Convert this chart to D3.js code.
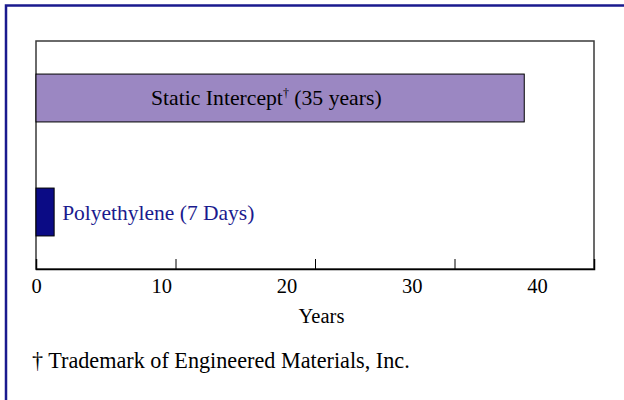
<!DOCTYPE html>
<html>
<head>
<meta charset="utf-8">
<script src="https://cdn.jsdelivr.net/npm/d3@7"></script>
<style>
  body { margin: 0; background: #fff; }
  svg text { font-family: "Liberation Serif", "Times New Roman", serif; }
</style>
</head>
<body>
<div id="chart"></div>
<script>
// data
const categories = ["Static Intercept", "Polyethylene"];
const lifetimes = [35, 1.3];           // bar length in years as drawn
const barLabels = ["Static Intercept", "Polyethylene (7 Days)"];
const tickValues = [0, 10, 20, 30, 40];
const footnote = "\u2020 Trademark of Engineered Materials, Inc.";

const width = 624;
const height = 400;
const plot = {left: 36, right: 594, top: 41, bottom: 269};

const svg = d3.select("#chart")
    .append("svg")
    .attr("width", width)
    .attr("height", height);

// outer border (only top/left visible in the crop)
svg.append("path")
    .attr("d", "M6,400 V5.5 H624")
    .attr("fill", "none")
    .attr("stroke", "#1a1a8e")
    .attr("stroke-width", 2.5);

// scales
const x = d3.scaleLinear()
    .domain([0, 40])
    .range([plot.left, plot.right]);

// tick labels in the original sit on a tighter spacing than the ticks
const xLabel = d3.scaleLinear()
    .domain([0, 40])
    .range([plot.left, 537]);

const y = d3.scaleBand()
    .domain(categories)
    .range([plot.top, plot.bottom])
    .paddingInner(0.58)
    .paddingOuter(0.29);

// plot frame
svg.append("rect")
    .attr("x", plot.left)
    .attr("y", plot.top)
    .attr("width", plot.right - plot.left)
    .attr("height", plot.bottom - plot.top)
    .attr("fill", "none")
    .attr("stroke", "#3a3a3a")
    .attr("stroke-width", 1.5);

// bars
const colors = ["#9b87c2", "#0b0b85"];
svg.selectAll(".bar")
    .data(categories)
    .enter().append("rect")
    .attr("class", "bar")
    .attr("x", x(0))
    .attr("y", d => y(d))
    .attr("width", (d, i) => x(lifetimes[i]) - x(0))
    .attr("height", y.bandwidth())
    .attr("fill", (d, i) => colors[i])
    .attr("stroke", "#000")
    .attr("stroke-width", 1);

// bar labels
const staticLabel = svg.append("text")
    .attr("x", x(0) + 115)
    .attr("y", y(categories[0]) + y.bandwidth() / 2 + 7)
    .attr("font-size", 21.7)
    .attr("fill", "#000");
staticLabel.append("tspan").text(barLabels[0]);
staticLabel.append("tspan")
    .attr("font-size", 12)
    .attr("dy", -8)
    .text("\u2020");
staticLabel.append("tspan")
    .attr("dy", 8)
    .text(" (35 years)");

svg.append("text")
    .attr("x", x(lifetimes[1]) + 8)
    .attr("y", y(categories[1]) + y.bandwidth() / 2 + 7.5)
    .attr("font-size", 21.5)
    .attr("fill", "#1a1a8e")
    .text(barLabels[1]);

// ticks (pointing up into the plot)
const tickAxis = svg.append("g")
    .attr("transform", "translate(0," + plot.bottom + ")")
    .call(d3.axisBottom(x).tickValues(tickValues).tickSize(-10).tickFormat(""));
tickAxis.select(".domain")
    .attr("stroke", "#000")
    .attr("stroke-width", 1.5);
tickAxis.selectAll(".tick line")
    .attr("stroke", "#000");

// tick labels
const labelAxis = svg.append("g")
    .attr("transform", "translate(0," + plot.bottom + ")")
    .call(d3.axisBottom(xLabel).tickValues(tickValues).tickSize(0).tickPadding(10));
labelAxis.select(".domain").remove();
labelAxis.selectAll("text")
    .attr("font-family", "Liberation Serif, Times New Roman, serif")
    .attr("font-size", 20.5)
    .attr("fill", "#000")
    .attr("dy", null)
    .attr("y", 24);

// axis title
svg.append("text")
    .attr("x", 321.5)
    .attr("y", 323)
    .attr("text-anchor", "middle")
    .attr("font-size", 20.5)
    .text("Years");

// footnote
svg.append("text")
    .attr("x", 32)
    .attr("y", 368)
    .attr("font-size", 22.2)
    .text(footnote);
</script>
</body>
</html>
